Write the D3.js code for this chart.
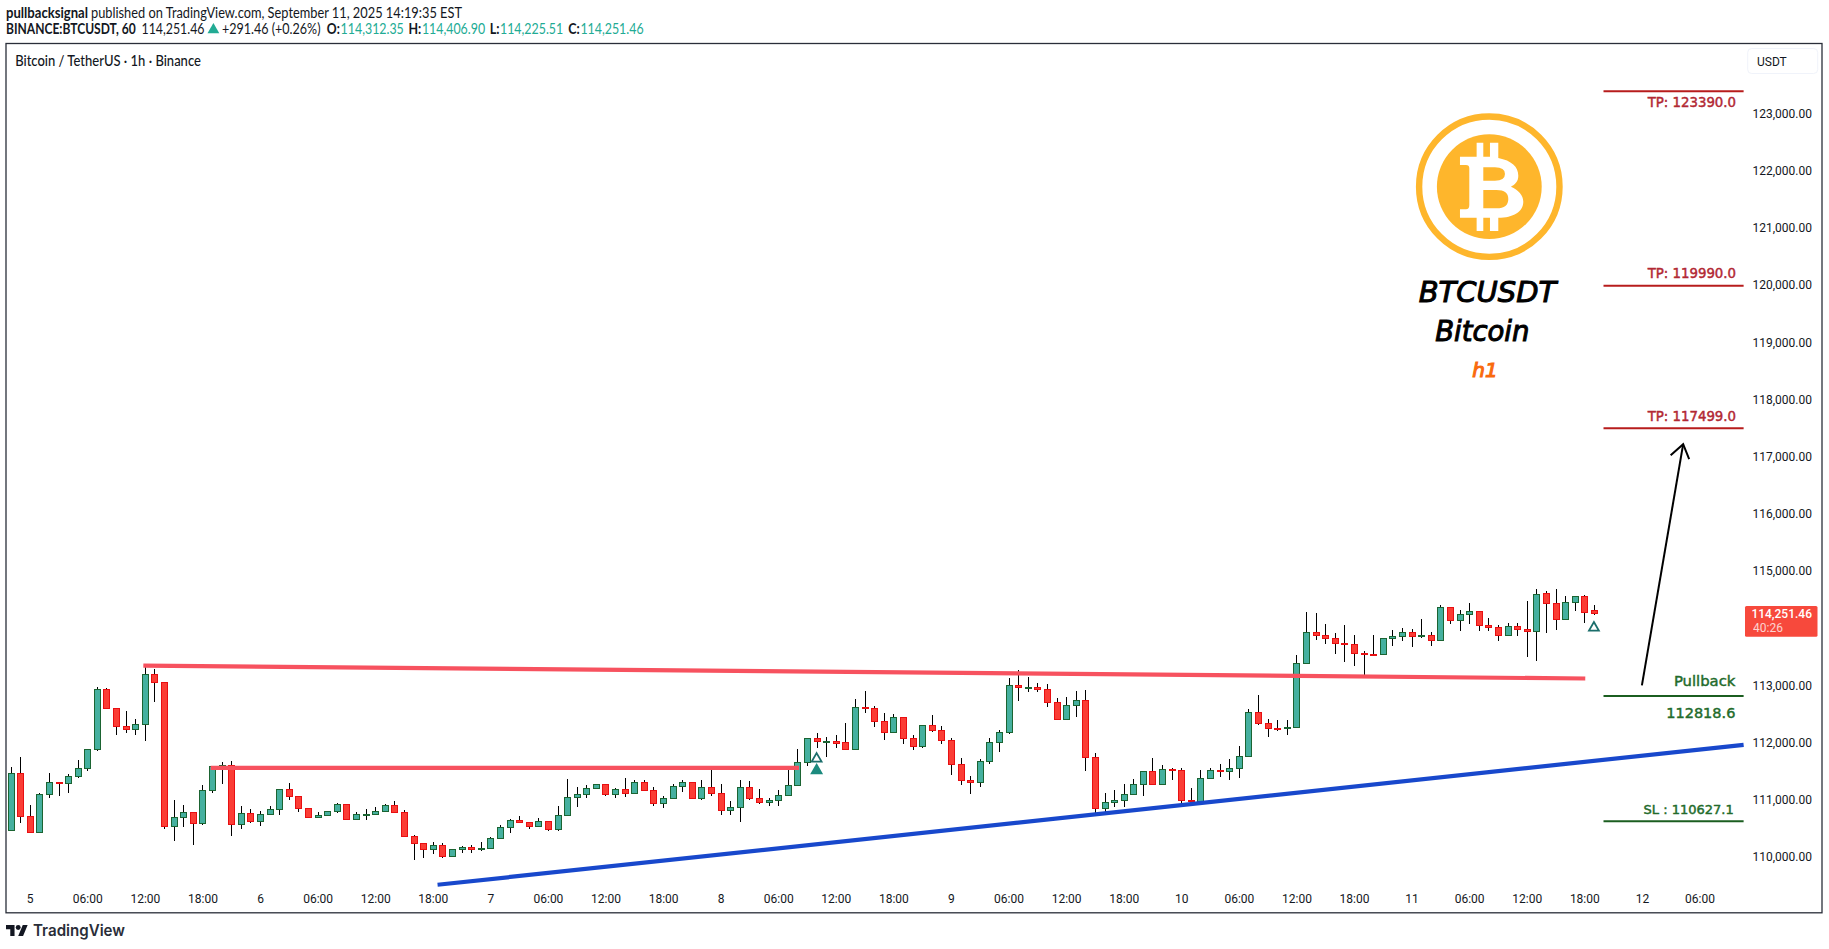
<!DOCTYPE html>
<html>
<head>
<meta charset="utf-8">
<script src="https://cdn.jsdelivr.net/npm/d3@7"></script>
<style>
  html, body { margin: 0; padding: 0; background: #fff; overflow: hidden; }
  svg { display: block; }
  text { font-family: Lato, sans-serif; fill: #131722; }
  .axis text { font-family: Roboto, sans-serif; font-size: 12px; fill: #131722; }
  .note { font-family: "DejaVu Sans", sans-serif; stroke-width: .45; }
</style>
</head>
<body>
<svg id="chart" width="1829" height="949"></svg>
<script>
// hours counted from Sep 5 00:00, the first candle is 22:00 of the day before
var firstHour = -2;

var opens = [
  110472,111468,110716,110436,111101,111310,111293,111415,111555,111881,
  112936,112604,112289,112231,112324,113198,113058,110541,110699,110786,
  110588,111170,111590,111607,110576,110768,110629,110751,110838,111188,
  111066,110856,110699,110734,110803,110926,110664,110751,110751,110803,
  110908,110786,110366,110244,110139,110209,110011,110139,110174,110151,
  110157,110331,110524,110646,110611,110541,110629,110483,110734,111048,
  111101,111205,111275,111101,111188,111118,111310,111170,110943,111031,
  111240,111310,111031,111223,111118,110815,110873,111223,111031,110961,
  110990,111083,111252,111660,112079,112021,112033,112010,111887,112627,
  112604,112377,112184,112447,112079,111934,112307,112219,112045,111625,
  111345,111310,111677,112010,112184,113006,112965,112971,112936,112709,
  112412,112656,112744,111747,110856,110961,110996,111101,111275,111503,
  111275,111543,111520,110996,110972,111380,111520,111503,111555,111759,
  112534,112336,112260,112254,112266,113386,113933,113881,113829,113741,
  113724,113566,113549,113543,113829,113858,113933,113858,113881,113794,
  114370,114137,114248,114300,114056,114021,113881,114038,113986,113951,
  114615,114440,114161,114458,114563,114312
];
var highs = [
  111578,111753,110914,111124,111474,111310,111450,111701,111887,112971,
  112959,112604,112557,112417,113315,113292,113058,111002,110914,110786,
  111258,111596,111660,111683,110897,110838,110809,110897,111188,111299,
  111066,110856,110786,110803,110943,110926,110786,110844,110879,110932,
  110984,110821,110390,110244,110267,110250,110139,110197,110209,110267,
  110355,110559,110669,110722,110611,110681,110634,110897,111369,111229,
  111252,111275,111275,111211,111386,111345,111345,111229,111071,111275,
  111345,111310,111351,111538,111281,110984,111351,111334,111194,111031,
  111176,111520,111893,112079,112167,112091,112138,112348,112767,112907,
  112639,112522,112499,112447,112138,112307,112487,112295,112079,111736,
  111421,111712,112079,112219,113134,113274,113152,113047,113024,112785,
  112802,112907,112924,111817,111124,111176,111281,111369,111509,111736,
  111613,111549,111561,111211,111526,111561,111631,111718,111946,112586,
  112837,112417,112400,112400,113536,114289,114271,114079,113922,114062,
  113887,113607,113887,113829,113974,114003,113986,114166,113939,114405,
  114370,114318,114446,114300,114184,114056,114097,114097,114481,114685,
  114650,114685,114569,114563,114586,114407
];
var lows = [
  110472,110588,110436,110436,111025,111071,111124,111386,111497,111858,
  112604,112126,112173,112126,112021,112703,110483,110273,110518,110203,
  110553,111112,111281,110361,110483,110588,110535,110728,110728,110990,
  110780,110675,110693,110734,110763,110664,110664,110652,110745,110803,
  110763,110343,109958,109993,110046,109993,110011,110075,110063,110098,
  110157,110331,110430,110588,110483,110535,110465,110448,110710,110868,
  111025,111182,111060,111025,111042,111118,111147,110885,110850,111031,
  111130,111031,110990,111060,110728,110728,110605,111002,110920,110885,
  110902,111077,111235,111584,111911,111742,111916,111864,111887,112511,
  112283,112050,112184,111969,111881,111916,112190,111986,111444,111252,
  111095,111217,111619,111841,112144,112732,112878,112895,112616,112394,
  112394,112452,111497,110774,110792,110879,110879,111101,111071,111252,
  111252,111351,110926,110926,110972,111357,111392,111351,111386,111742,
  112318,112091,112196,112138,112266,113368,113788,113718,113543,113403,
  113333,113187,113537,113531,113695,113770,113665,113823,113695,113794,
  114067,113957,114067,113945,113957,113770,113881,113869,113491,113421,
  113910,113974,114161,114306,114085,114226
];
var closes = [
  111468,110716,110436,111101,111310,111287,111415,111555,111887,112936,
  112604,112289,112231,112324,113198,113058,110541,110699,110786,110594,
  111170,111590,111607,110576,110768,110629,110751,110838,111188,111066,
  110856,110693,110734,110803,110926,110664,110751,110757,110803,110908,
  110786,110366,110244,110139,110209,110011,110139,110174,110139,110157,
  110331,110524,110646,110605,110541,110629,110483,110734,111048,111101,
  111211,111275,111101,111188,111118,111310,111170,110943,111031,111240,
  111310,111031,111223,111118,110815,110873,111223,111025,110961,110996,
  111083,111258,111660,112079,112021,112033,112004,111887,112621,112610,
  112377,112184,112447,112079,111940,112307,112219,112045,111625,111345,
  111310,111677,112010,112184,113006,112971,112977,112936,112709,112412,
  112656,112744,111742,110856,110961,110996,111101,111275,111503,111275,
  111538,111532,110996,110984,111380,111520,111497,111555,111765,112534,
  112336,112254,112248,112272,113391,113933,113875,113829,113741,113718,
  113560,113555,113537,113829,113863,113933,113858,113881,113794,114370,
  114143,114248,114300,114056,114015,113881,114038,113986,113951,114598,
  114440,114161,114458,114563,114283,114251
];

// 114,000 sits behind the last price tag, so it has no label
var priceTicks = [110000,111000,112000,113000,115000,116000,117000,118000,119000,120000,121000,122000,123000];
var timeLabels = ["5","06:00","12:00","18:00","6","06:00","12:00","18:00","7","06:00","12:00","18:00",
  "8","06:00","12:00","18:00","9","06:00","12:00","18:00","10","06:00","12:00","18:00",
  "11","06:00","12:00","18:00","12","06:00"];

// drawn lines as [hour, price]
var upperResistance = [[11.84,113349],[162.1,113122]];
var lowerResistance = [[18.86,111561],[80.17,111561]];
var supportLine = [[42.5,109516],[178.6,111963]];
var arrowLine = [[168,113003],[172.3,117219]];

var levelStart = 164, levelEnd = 178.6;
var targetPrices = [123390.0,119990.0,117499.0];
var targetLabels = ["TP: 123390.0","TP: 119990.0","TP: 117499.0"];
var pullbackPrice = 112818.6;
var stopPrice = 110627.1;

var markerHours = [82,82,163];
var markerPrices = [111719,111514,114010];
var markerFilled = [false,true,false];

var upFill = "#45b09f", upEdge = "#1b6432";
var downFill = "#fb3d35", downEdge = "#e80f12";

var svg = d3.select("#chart");

var x = d3.scaleLinear().domain([-2.42,178.64]).range([6.5,1744]);
var y = d3.scaleLinear().domain([110000,123000]).range([857.1,113.5]);

function addText(px, py, str, o) {
  o = o || {};
  var t = svg.append("text").attr("x", px).attr("y", py).attr("dy", ".35em").text(str);
  if (o.size) t.style("font-size", o.size + "px");
  if (o.weight) t.style("font-weight", o.weight);
  if (o.color) t.style("fill", o.color);
  if (o.anchor) t.attr("text-anchor", o.anchor);
  if (o.family) t.style("font-family", o.family);
  if (o.len) t.attr("textLength", o.len).attr("lengthAdjust", "spacingAndGlyphs");
  if (o.cls) t.attr("class", o.cls).style("stroke", o.color);
  return t;
}

// header
var teal = "#22ab94";
var hs = 14.5;
addText(6, 12.7, "pullbacksignal", {size: hs, weight: 700, len: 82});
addText(91, 12.7, "published on TradingView.com, September 11, 2025 14:19:35 EST", {size: hs, len: 371});
addText(6, 29.3, "BINANCE:BTCUSDT, 60", {size: hs, weight: 700, len: 129.7});
addText(141.5, 29.3, "114,251.46", {size: hs, len: 63});
svg.append("path").attr("d", d3.symbol(d3.symbolTriangle, 60)()).attr("transform", "translate(213.4,29.8)").attr("fill", teal);
addText(221.9, 29.3, "+291.46 (+0.26%)", {size: hs, len: 98.6});
var ohlcKeys = ["O:","H:","L:","C:"];
var ohlcVals = ["114,312.35","114,406.90","114,225.51","114,251.46"];
var ohlcKeyX = [326.8,408.5,489.7,568.3];
var ohlcKeyLen = [13,12.8,9.8,11.5];
var ohlcValX = [340.6,421.9,500,580.4];
ohlcKeys.forEach(function(k, i) {
  addText(ohlcKeyX[i], 29.3, k, {size: hs, weight: 700, len: ohlcKeyLen[i]});
  addText(ohlcValX[i], 29.3, ohlcVals[i], {size: hs, color: teal, len: 63.2});
});

// chart frame
svg.append("rect").attr("x", 6).attr("y", 43.5).attr("width", 1816).attr("height", 869.3)
  .attr("fill", "#fff").attr("stroke", "#2a2e39").attr("stroke-width", 1.3);
addText(15.2, 60.7, "Bitcoin / TetherUS · 1h · Binance", {size: hs, weight: 500, len: 185.7});

// axes
var priceAxis = d3.axisRight(y).tickValues(priceTicks).tickSize(0).tickPadding(0).tickFormat(d3.format(",.2f"));
var gy = svg.append("g").attr("class", "axis").attr("transform", "translate(1812,0)").call(priceAxis);
gy.select(".domain").remove();
gy.selectAll("text").attr("text-anchor", "end");

var timeAxis = d3.axisBottom(x).tickValues(timeLabels.map(function(d, i) { return i * 6; }))
  .tickSize(0).tickPadding(0).tickFormat(function(d) { return timeLabels[d / 6]; });
var gx = svg.append("g").attr("class", "axis").attr("transform", "translate(0,894.3)").call(timeAxis);
gx.select(".domain").remove();

// candles
var candles = opens.map(function(o, i) {
  return {hour: firstHour + i, open: o, high: highs[i], low: lows[i], close: closes[i], up: closes[i] >= o};
});

var cg = svg.append("g");
cg.selectAll("line").data(candles).enter().append("line")
  .attr("x1", function(d) { return Math.round(x(d.hour)) + .5; })
  .attr("x2", function(d) { return Math.round(x(d.hour)) + .5; })
  .attr("y1", function(d) { return y(d.high); })
  .attr("y2", function(d) { return y(d.low); })
  .attr("stroke", "#000").attr("stroke-width", 1).attr("shape-rendering", "crispEdges");

cg.selectAll("rect").data(candles).enter().append("rect")
  .attr("x", function(d) { return Math.round(x(d.hour)) - 2.5; })
  .attr("width", 6)
  .attr("y", function(d) { return Math.round(y(Math.max(d.open, d.close))) + .5; })
  .attr("height", function(d) { return Math.max(Math.round(Math.abs(y(d.open) - y(d.close))), 1); })
  .attr("fill", function(d) { return d.up ? upFill : downFill; })
  .attr("stroke", function(d) { return d.up ? upEdge : downEdge; })
  .attr("stroke-width", 1).attr("shape-rendering", "crispEdges");

// trend lines
var line = d3.line().x(function(d) { return x(d[0]); }).y(function(d) { return y(d[1]); });
function trend(data, color, width) {
  svg.append("path").attr("d", line(data)).attr("fill", "none").attr("stroke", color).attr("stroke-width", width);
}
trend(upperResistance, "#f7525f", 4.2);
trend(lowerResistance, "#f7525f", 4.2);
trend(supportLine, "#1848cc", 4.2);

// signal markers
var triangle = d3.symbol(d3.symbolTriangle, 42)();
svg.append("g").selectAll("path").data(markerHours).enter().append("path")
  .attr("d", triangle)
  .attr("transform", function(d, i) { return "translate(" + x(d) + "," + y(markerPrices[i]) + ")"; })
  .attr("fill", function(d, i) { return markerFilled[i] ? "#1c8a7e" : "#fff"; })
  .attr("stroke", function(d, i) { return markerFilled[i] ? "#1c8a7e" : "#1b6e6b"; })
  .attr("stroke-width", 1.8);

// target and stop levels
function level(price, color) {
  svg.append("line").attr("x1", x(levelStart)).attr("x2", x(levelEnd))
    .attr("y1", y(price)).attr("y2", y(price)).attr("stroke", color).attr("stroke-width", 2);
}
var red = "#b71c1c", green = "#1b5e20";
targetPrices.forEach(function(p) { level(p, red); });
level(pullbackPrice, green);
level(stopPrice, green);

var targetOffsets = [11, -12, -11.6];
targetLabels.forEach(function(s, i) {
  addText(1736, y(targetPrices[i]) + targetOffsets[i], s, {size: 13.3, color: "#b22833", anchor: "end", cls: "note"});
});
addText(1735.4, y(pullbackPrice) - 15, "Pullback", {size: 14.8, color: "#236b2b", anchor: "end", cls: "note"});
addText(1735.4, y(pullbackPrice) + 17, d3.format(".1f")(pullbackPrice), {size: 14.5, color: "#236b2b", anchor: "end", cls: "note"});
addText(1733.7, y(stopPrice) - 12, "SL : " + d3.format(".1f")(stopPrice), {size: 13, color: "#236b2b", anchor: "end", cls: "note"});

// arrow
trend(arrowLine, "#000", 2);
var tipX = x(arrowLine[1][0]), tipY = y(arrowLine[1][1]);
svg.append("path").attr("d", "M" + (tipX - 12.5) + "," + (tipY + 11) + "L" + tipX + "," + tipY + "L" + (tipX + 6) + "," + (tipY + 15))
  .attr("fill", "none").attr("stroke", "#000").attr("stroke-width", 2);

// bitcoin logo
var logo = svg.append("g").attr("transform", "translate(1489.3,186.7)");
logo.append("circle").attr("r", 70.2).attr("fill", "none").attr("stroke", "#feb62c").attr("stroke-width", 6.4);
logo.append("circle").attr("r", 52.4).attr("fill", "#feb62c");
logo.append("path").attr("transform", "scale(.3333) translate(-328,-470)").attr("fill", "#fff").attr("fill-rule", "evenodd")
  .attr("d", "M240 380H290V338H310V380H330V338H355V384C395 392 415 410 415 437C415 455 405 463 393 470C415 480 430 495 430 515C430 545 400 563 355 563V603H330V563H310V603H290V563H240V538H258Q268 538 268 525V415Q268 405 258 405H240Z" +
     "M310 412H345Q375 412 375 432Q375 452 345 452H310ZM310 480H350Q385 480 385 507Q385 535 350 535H310Z");

function logoText(cx, base, str, size, color, thick) {
  svg.append("text").attr("x", cx).attr("y", base).attr("text-anchor", "middle").text(str)
    .style("font-family", '"DejaVu Sans", sans-serif').style("font-style", "italic")
    .style("font-size", size + "px").style("fill", color).style("stroke", color).style("stroke-width", thick);
}
logoText(1487.5, 301.7, "BTCUSDT", 29, "#000", 1);
logoText(1482.3, 340.7, "Bitcoin", 27.5, "#000", 1);
logoText(1485, 376.7, "h1", 20, "#f96a0d", 1.1);

// last price tag
svg.append("rect").attr("x", 1745).attr("y", 606).attr("width", 72.5).attr("height", 30.7).attr("rx", 1.5).attr("fill", "#f7493c");
addText(1812, 613.7, d3.format(",.2f")(114251.46), {size: 12, weight: 500, color: "#fff", anchor: "end", family: "Roboto, sans-serif"});
addText(1753, 627.7, "40:26", {size: 12, color: "#ffffff", family: "Roboto, sans-serif"}).style("opacity", .75);

// currency button
svg.append("rect").attr("x", 1747.7).attr("y", 48.5).attr("width", 70).attr("height", 25).attr("rx", 4)
  .attr("fill", "#fff").attr("stroke", "#f0f3fa");
addText(1757, 61.7, "USDT", {size: 12, family: "Roboto, sans-serif"});

// footer logo
svg.append("path").attr("transform", "translate(6,922.6) scale(.61)").attr("fill", "#131722")
  .attr("d", "M14 22H7V11H0V4h14v18zM28 22h-8l7.5-18h8L28 22z");
svg.append("circle").attr("cx", 6 + 20 * .61).attr("cy", 922.6 + 8 * .61).attr("r", 4 * .61).attr("fill", "#131722");
addText(33, 930.7, "TradingView", {size: 16, weight: 600, color: "#2a2e39", family: "Inter, sans-serif", len: 92});
</script>
</body>
</html>
